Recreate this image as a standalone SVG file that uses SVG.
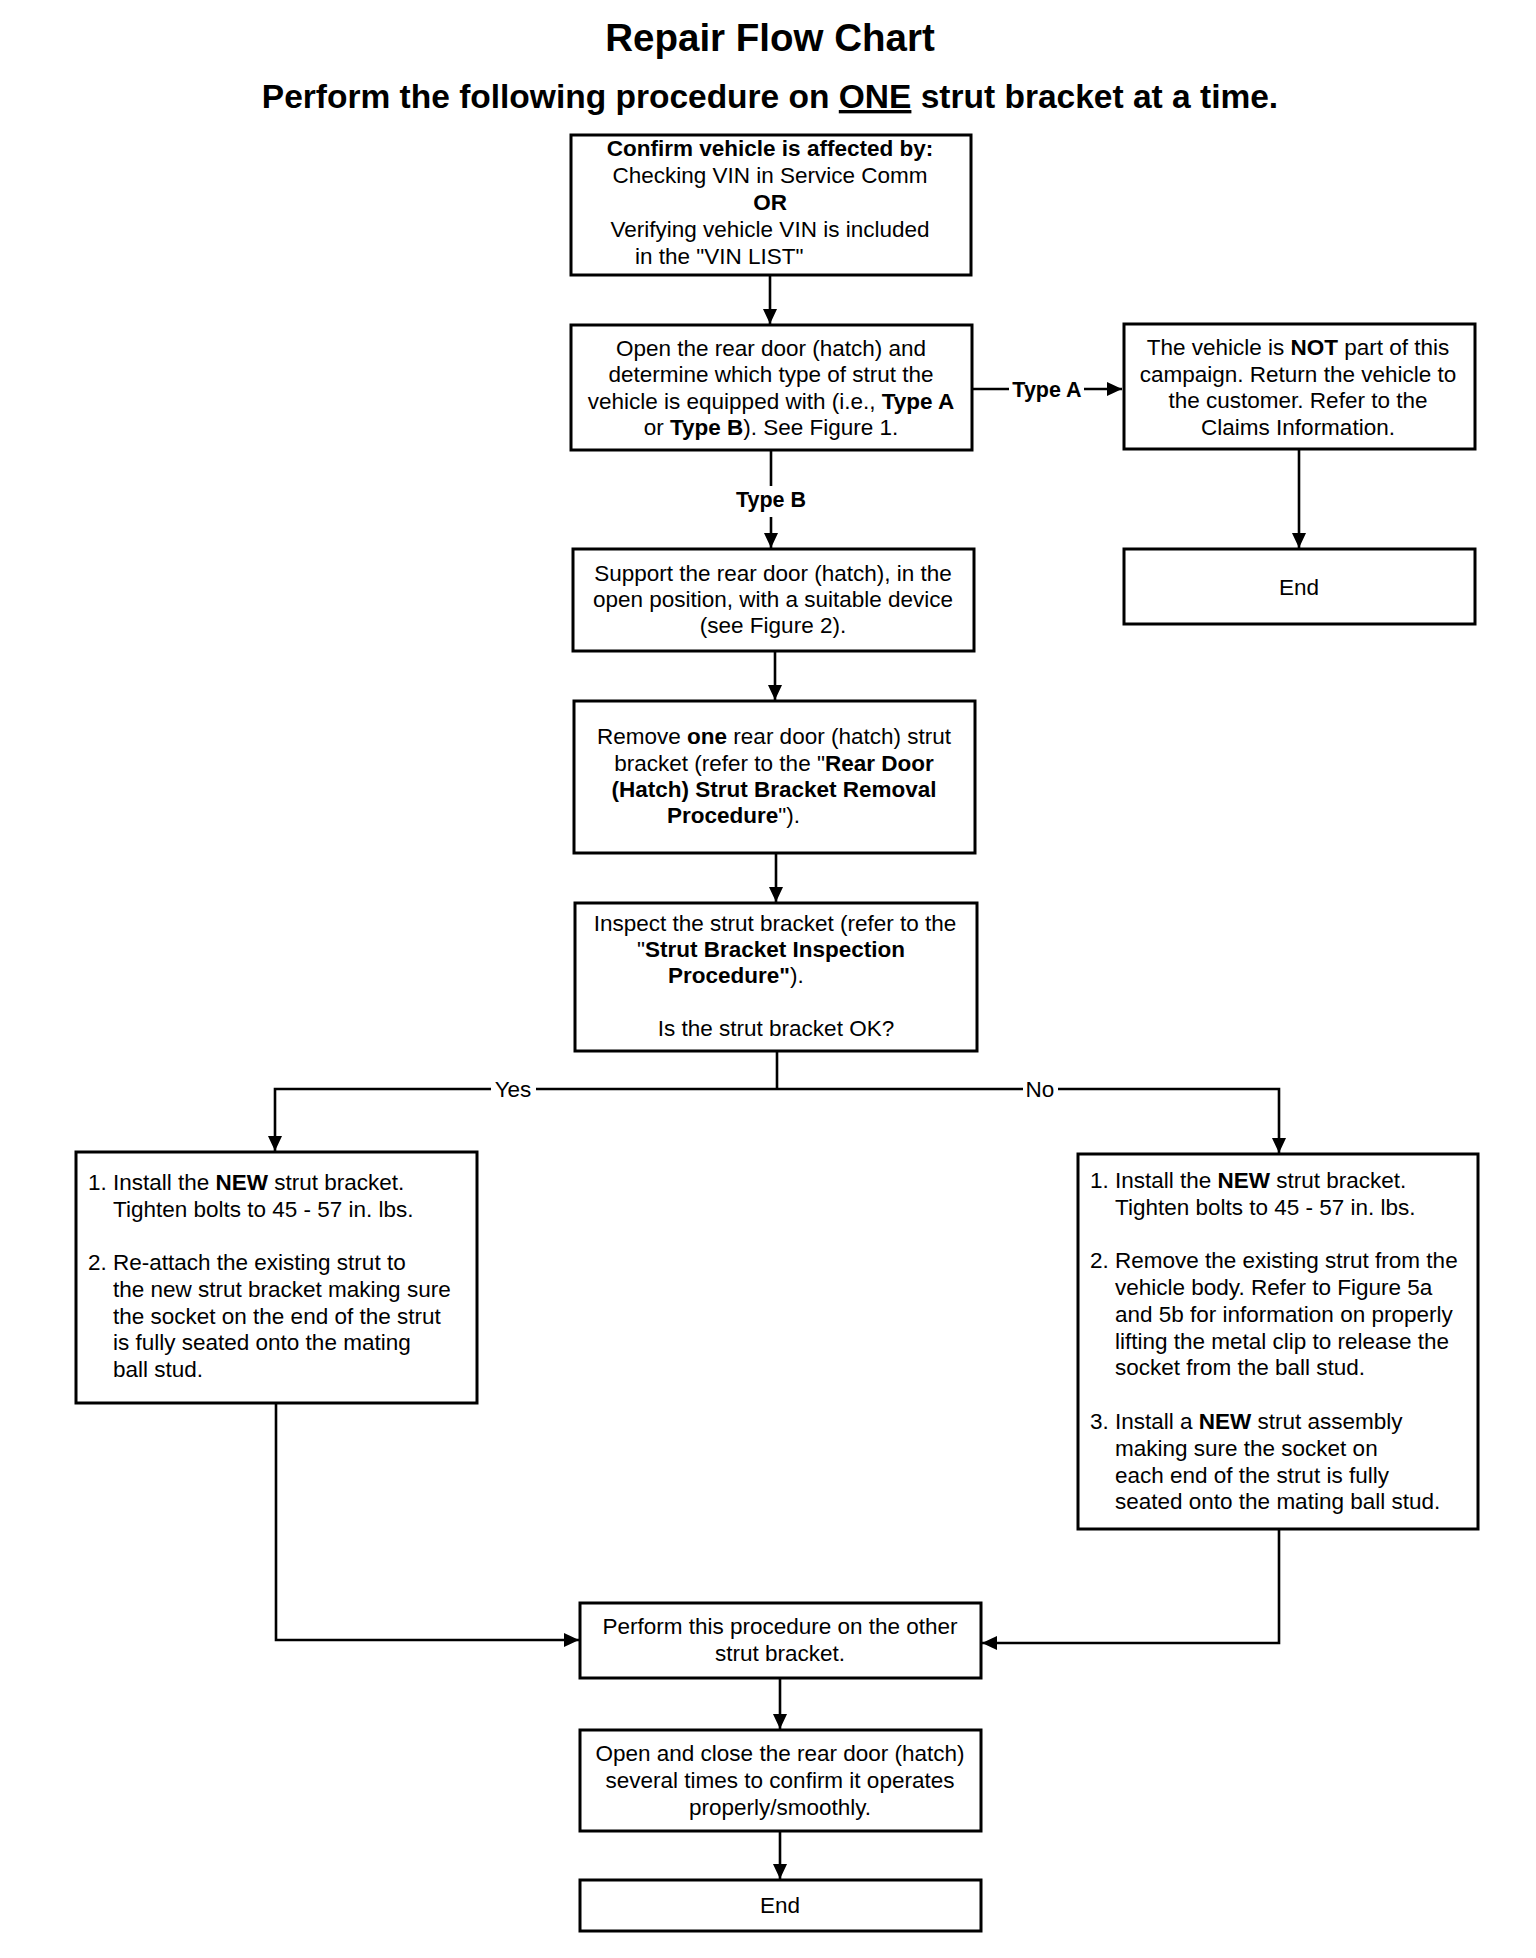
<svg xmlns="http://www.w3.org/2000/svg" width="1536" height="1958" viewBox="0 0 1536 1958">
<style>
text{font-family:"Liberation Sans",Arial,Helvetica,sans-serif;fill:#000}
.t{font-size:22.5px}
.c{text-anchor:middle}
.b{font-weight:bold}
.box{fill:#fff;stroke:#000;stroke-width:3}
.ln{fill:none;stroke:#000;stroke-width:2.6}
</style>
<defs>
<marker id="ah" markerUnits="userSpaceOnUse" markerWidth="16" markerHeight="14" refX="15" refY="7" orient="auto">
<path d="M0,0 L15,7 L0,14 z" fill="#000"/>
</marker>
</defs>
<rect width="1536" height="1958" fill="#fff"/>
<text x="770" y="51" class="c b" style="font-size:38.5px">Repair Flow Chart</text>
<text x="770" y="108" class="c b" style="font-size:33.5px">Perform the following procedure on <tspan style="text-decoration:underline">ONE</tspan> strut bracket at a time.</text>

<g id="connectors">
<path class="ln" d="M770,275 V324" marker-end="url(#ah)"/>
<path class="ln" d="M972,389 H1009"/>
<path class="ln" d="M1084,389 H1122" marker-end="url(#ah)"/>
<path class="ln" d="M1299,449 V548" marker-end="url(#ah)"/>
<path class="ln" d="M771,450 V486"/>
<path class="ln" d="M771,517 V548" marker-end="url(#ah)"/>
<path class="ln" d="M775,651 V700" marker-end="url(#ah)"/>
<path class="ln" d="M776,853 V902" marker-end="url(#ah)"/>
<path class="ln" d="M777,1051 V1089"/>
<path class="ln" d="M491,1089 H275 V1151" marker-end="url(#ah)"/>
<path class="ln" d="M536,1089 H1023"/>
<path class="ln" d="M1058,1089 H1279 V1153" marker-end="url(#ah)"/>
<path class="ln" d="M276,1403 V1640 H579" marker-end="url(#ah)"/>
<path class="ln" d="M1279,1529 V1643 H982" marker-end="url(#ah)"/>
<path class="ln" d="M780,1678 V1729" marker-end="url(#ah)"/>
<path class="ln" d="M780,1831 V1879" marker-end="url(#ah)"/>
<text x="1047" y="397" class="c b" style="font-size:21.5px">Type A</text>
<text x="771" y="507" class="c b" style="font-size:21.5px">Type B</text>
<text x="513" y="1097" class="t c">Yes</text>
<text x="1040" y="1097" class="t c">No</text>
</g>

<g id="confirm">
<rect class="box" x="571" y="135" width="400" height="140"/>
<text class="t c b" x="770" y="156">Confirm vehicle is affected by:</text>
<text class="t c" x="770" y="183">Checking VIN in Service Comm</text>
<text class="t c b" x="770" y="210">OR</text>
<text class="t c" x="770" y="237">Verifying vehicle VIN is included</text>
<text class="t" x="635" y="264">in the "VIN LIST"</text>
</g>

<g id="open-door">
<rect class="box" x="571" y="325" width="401" height="125"/>
<text class="t c" x="771" y="356">Open the rear door (hatch) and</text>
<text class="t c" x="771" y="382">determine which type of strut the</text>
<text class="t c" x="771" y="409">vehicle is equipped with (i.e., <tspan class="b">Type A</tspan></text>
<text class="t c" x="771" y="435">or <tspan class="b">Type B</tspan>). See Figure 1.</text>
</g>

<g id="not-part">
<rect class="box" x="1124" y="324" width="351" height="125"/>
<text class="t c" x="1298" y="355">The vehicle is <tspan class="b">NOT</tspan> part of this</text>
<text class="t c" x="1298" y="382">campaign. Return the vehicle to</text>
<text class="t c" x="1298" y="408">the customer. Refer to the</text>
<text class="t c" x="1298" y="435">Claims Information.</text>
</g>

<g id="end-a">
<rect class="box" x="1124" y="549" width="351" height="75"/>
<text class="t c" x="1299" y="595">End</text>
</g>

<g id="support">
<rect class="box" x="573" y="549" width="401" height="102"/>
<text class="t c" x="773" y="581">Support the rear door (hatch), in the</text>
<text class="t c" x="773" y="607">open position, with a suitable device</text>
<text class="t c" x="773" y="633">(see Figure 2).</text>
</g>

<g id="remove">
<rect class="box" x="574" y="701" width="401" height="152"/>
<text class="t c" x="774" y="744">Remove <tspan class="b">one</tspan> rear door (hatch) strut</text>
<text class="t c" x="774" y="771">bracket (refer to the "<tspan class="b">Rear Door</tspan></text>
<text class="t c b" x="774" y="797">(Hatch) Strut Bracket Removal</text>
<text class="t" x="667" y="823"><tspan class="b">Procedure</tspan>").</text>
</g>

<g id="inspect">
<rect class="box" x="575" y="903" width="402" height="148"/>
<text class="t c" x="775" y="931">Inspect the strut bracket (refer to the</text>
<text class="t c" x="771" y="957">"<tspan class="b">Strut Bracket Inspection</tspan></text>
<text class="t" x="668" y="983"><tspan class="b">Procedure"</tspan>).</text>
<text class="t c" x="776" y="1036">Is the strut bracket OK?</text>
</g>

<g id="yes-steps">
<rect class="box" x="76" y="1152" width="401" height="251"/>
<text class="t" x="88" y="1190">1.</text>
<text class="t" x="113" y="1190">Install the <tspan class="b">NEW</tspan> strut bracket.</text>
<text class="t" x="113" y="1217">Tighten bolts to 45 - 57 in. lbs.</text>
<text class="t" x="88" y="1270">2.</text>
<text class="t" x="113" y="1270">Re-attach the existing strut to</text>
<text class="t" x="113" y="1297">the new strut bracket making sure</text>
<text class="t" x="113" y="1324">the socket on the end of the strut</text>
<text class="t" x="113" y="1350">is fully seated onto the mating</text>
<text class="t" x="113" y="1377">ball stud.</text>
</g>

<g id="no-steps">
<rect class="box" x="1078" y="1154" width="400" height="375"/>
<text class="t" x="1090" y="1188">1.</text>
<text class="t" x="1115" y="1188">Install the <tspan class="b">NEW</tspan> strut bracket.</text>
<text class="t" x="1115" y="1215">Tighten bolts to 45 - 57 in. lbs.</text>
<text class="t" x="1090" y="1268">2.</text>
<text class="t" x="1115" y="1268">Remove the existing strut from the</text>
<text class="t" x="1115" y="1295">vehicle body. Refer to Figure 5a</text>
<text class="t" x="1115" y="1322">and 5b for information on properly</text>
<text class="t" x="1115" y="1349">lifting the metal clip to release the</text>
<text class="t" x="1115" y="1375">socket from the ball stud.</text>
<text class="t" x="1090" y="1429">3.</text>
<text class="t" x="1115" y="1429">Install a <tspan class="b">NEW</tspan> strut assembly</text>
<text class="t" x="1115" y="1456">making sure the socket on</text>
<text class="t" x="1115" y="1483">each end of the strut is fully</text>
<text class="t" x="1115" y="1509">seated onto the mating ball stud.</text>
</g>

<g id="other-bracket">
<rect class="box" x="580" y="1603" width="401" height="75"/>
<text class="t c" x="780" y="1634">Perform this procedure on the other</text>
<text class="t c" x="780" y="1661">strut bracket.</text>
</g>

<g id="open-close">
<rect class="box" x="580" y="1730" width="401" height="101"/>
<text class="t c" x="780" y="1761">Open and close the rear door (hatch)</text>
<text class="t c" x="780" y="1788">several times to confirm it operates</text>
<text class="t c" x="780" y="1815">properly/smoothly.</text>
</g>

<g id="end-b">
<rect class="box" x="580" y="1880" width="401" height="51"/>
<text class="t c" x="780" y="1913">End</text>
</g>
</svg>
